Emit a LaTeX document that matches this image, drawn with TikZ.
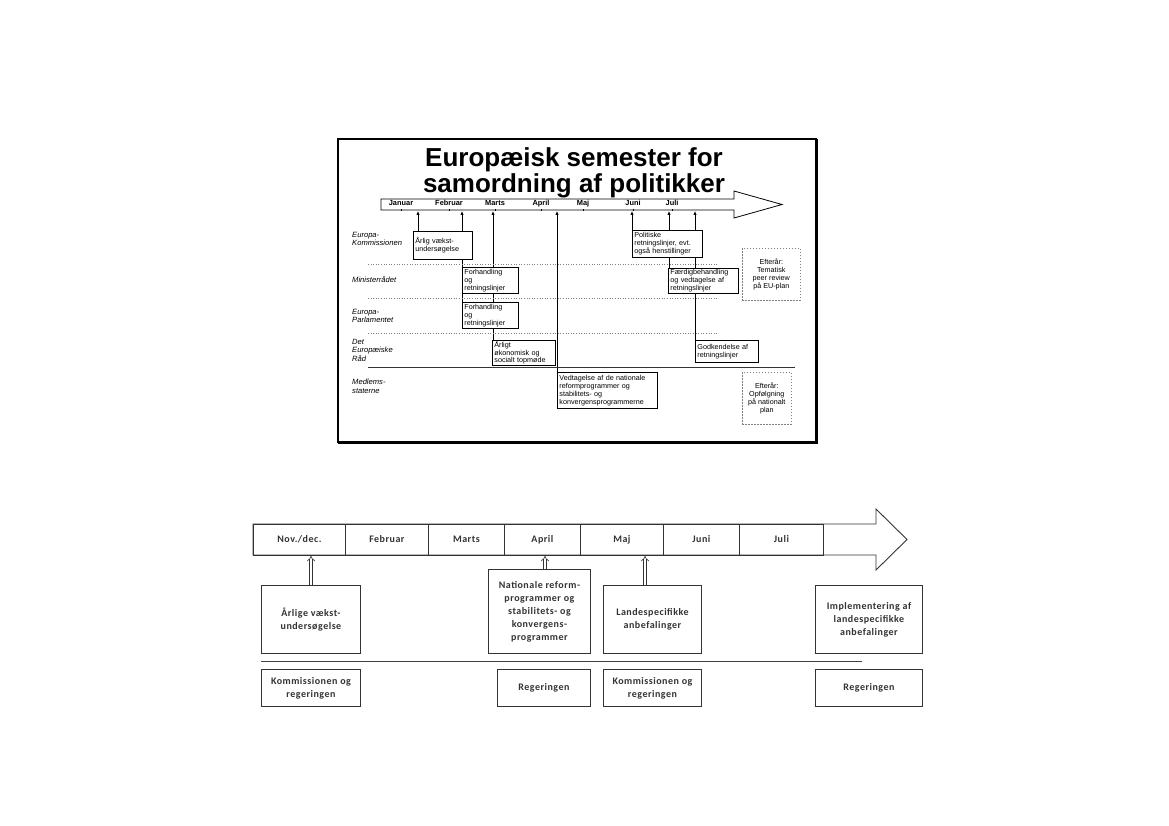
\documentclass[tikz,border=0pt]{standalone}
\usepackage{fontspec}
\setmainfont{Liberation Sans}
\newfontfamily\arialf{Liberation Sans}
\newfontfamily\calib[LetterSpace=5]{Carlito}
\usetikzlibrary{arrows.meta}
\pgfdeclarelayer{bg}
\pgfsetlayers{bg,main}
\newcommand\tightlines{\lineskiplimit=-4pt\relax}
\tikzset{
  tbox/.style={draw, fill=white, line width=0.8pt, inner xsep=2pt, inner ysep=0.5pt, align=left,
    font={\arialf\fontsize{7.2}{7.9}\selectfont\tightlines}, anchor=north west},
  dbox/.style={draw=gray, dashed, dash pattern=on 1.5pt off 1.5pt, fill=white, line width=0.6pt, align=center,
    font={\arialf\fontsize{7.2}{8}\selectfont\tightlines}, anchor=north west, inner sep=0pt},
  rowlab/.style={anchor=north west, align=left, inner sep=0pt, font={\arialf\itshape\fontsize{7.6}{8.3}\selectfont\tightlines}},
  mon/.style={font=\arialf\bfseries\fontsize{7.4}{8}\selectfont, inner sep=0pt, text height=5.5pt, text depth=1.5pt},
  conn/.style={line width=0.7pt},
  up/.style={line width=0.7pt, -{Latex[length=4pt,width=3.4pt]}},
  sep/.style={line width=0.6pt, dotted, gray},
  cell/.style={draw=black!80, line width=0.8pt, inner sep=0pt, text height=7pt, text depth=2pt,
    font=\calib\bfseries\fontsize{10}{12}\selectfont, text=black!80},
  bbox/.style={draw=black!80, line width=0.9pt, fill=white, align=center, inner sep=0pt,
    font={\calib\bfseries\fontsize{10}{13}\selectfont\tightlines}, text=black!80},
  dbl/.style={draw=black!80, double, double distance=2.2pt, line width=0.6pt, -{Implies}},
}
\begin{document}
\begin{tikzpicture}[x=1pt,y=-1pt]
\useasboundingbox (0,0) rectangle (1169,826);

% ===== top figure =====
\draw[line width=1.6pt] (338,139) rectangle (816,442);
\draw[line width=2.6pt] (816.5,139) -- (816.5,443) -- (338,443);

\node[anchor=base, font=\arialf\bfseries\fontsize{26}{28}\selectfont, inner sep=0pt] (t1) at (574,167) {Europæisk semester for};
\node[anchor=base, font=\arialf\bfseries\fontsize{26}{28}\selectfont, inner sep=0pt] (t2) at (574,193) {samordning af politikker};

\draw[line width=0.8pt, fill=white] (381,199) -- (734,199) -- (734,191) -- (782,204.5) -- (734,218) -- (734,210) -- (381,210) -- cycle;
\foreach \x/\m in {401/Januar,449/Februar,495/Marts,541/April,583/Maj,633/Juni,672/Juli}{
  \node[mon] at (\x,203.5) {\m};
  \draw[line width=0.4pt] (\x,209) -- (\x,211.5);
}
\coordinate (b1) at (418,211);
\coordinate (b2) at (462,211);
\coordinate (b3) at (493,211);
\coordinate (b4) at (557,211);
\coordinate (b5) at (632,211);
\coordinate (b6) at (669,211);
\coordinate (b7) at (695,211);

\node[rowlab] (r1) at (352,232) {Europa-\\Kommissionen};
\node[rowlab] (r2) at (352,276) {Ministerrådet};
\node[rowlab] (r3) at (352,309) {Europa-\\Parlamentet};
\node[rowlab] (r4) at (352,339) {Det\\Europæiske\\Råd};
\node[rowlab] (r5) at (352,379) {Medlems-\\staterne};

\coordinate (s1a) at (368,264); \coordinate (s1b) at (718,264);
\coordinate (s2a) at (368,298); \coordinate (s2b) at (718,298);
\coordinate (s3a) at (368,333); \coordinate (s3b) at (718,333);
\coordinate (s4a) at (368,367); \coordinate (s4b) at (795,367);
\draw[sep] (s1a) -- (s1b);
\draw[sep] (s2a) -- (s2b);
\draw[sep] (s3a) -- (s3b);
\draw[line width=0.7pt, black!80] (s4a) -- (s4b);

\node[tbox, text width=55pt, minimum height=28pt] (aarlig) at (413,231) {Årlig vækst-\\undersøgelse};
\node[tbox, text width=52pt, minimum height=26pt] (forh1) at (462,267) {Forhandling\\og\\retningslinjer};
\node[tbox, text width=52pt, minimum height=26pt] (forh2) at (462,302) {Forhandling\\og\\retningslinjer};
\node[tbox, text width=59pt, minimum height=23pt] (topm) at (492,340) {Årligt\\økonomisk og\\socialt topmøde};
\node[tbox, text width=96pt, minimum height=36pt] (vedt) at (557,372) {Vedtagelse af de nationale\\reformprogrammer og\\stabilitets- og\\konvergensprogrammerne};
\node[tbox, text width=66pt, minimum height=27pt] (polit) at (632,230) {Politiske\\retningslinjer, evt.\\også henstillinger};
\node[tbox, text width=66pt, minimum height=25pt] (faerd) at (668,268) {Færdigbehandling\\og vedtagelse af\\retningslinjer};
\node[tbox, text width=59pt, minimum height=22pt] (godk) at (695,340) {Godkendelse af\\retningslinjer};
\node[dbox, minimum width=58pt, minimum height=52pt] (eft1) at (742,248) {Efterår:\\Tematisk\\peer review\\på EU-plan};
\node[dbox, minimum width=49pt, minimum height=52pt] (eft2) at (742,372) {Efterår:\\Opfølgning\\på nationalt\\plan};

\begin{pgfonlayer}{bg}
\draw[up] (aarlig.north -| b1) -- (b1);
\draw[up] (aarlig.north -| b2) -- (b2);
\draw[conn] (aarlig.south -| b2) -- (forh1.north -| b2);
\draw[conn] (forh1.south -| b2) -- (forh2.north -| b2);
\draw[up] (topm.north -| b3) -- (b3);
\draw[up] (vedt.north -| b4) -- (b4);
\draw[up] (polit.north -| b5) -- (b5);
\draw[up] (polit.north -| b6) -- (b6);
\draw[conn] (polit.south -| b6) -- (faerd.north -| b6);
\draw[up] (godk.north -| b7) -- (b7);
\end{pgfonlayer}

% ===== bottom figure =====
\draw[draw=black!80, line width=0.9pt] (253,524) -- (876,524) -- (876,509) -- (907,539.5) -- (876,570) -- (876,555) -- (253,555) -- cycle;
\node[cell, minimum width=92pt, minimum height=31pt, anchor=north west] (c1) at (253,524) {Nov./dec.};
\node[cell, minimum width=83pt, minimum height=31pt, anchor=north west] (c2) at (345,524) {Februar};
\node[cell, minimum width=76pt, minimum height=31pt, anchor=north west] (c3) at (428,524) {Marts};
\node[cell, minimum width=76pt, minimum height=31pt, anchor=north west] (c4) at (504,524) {April};
\node[cell, minimum width=83pt, minimum height=31pt, anchor=north west] (c5) at (580,524) {Maj};
\node[cell, minimum width=76pt, minimum height=31pt, anchor=north west] (c6) at (663,524) {Juni};
\node[cell, minimum width=84pt, minimum height=31pt, anchor=north west] (c7) at (739,524) {Juli};

\node[bbox, minimum width=99pt, minimum height=68pt, anchor=north west] (x1) at (261,585) {Årlige vækst-\\undersøgelse};
\node[bbox, minimum width=102pt, minimum height=84pt, anchor=north west] (x2) at (488,569) {Nationale reform-\\programmer og\\stabilitets- og\\konvergens-\\programmer};
\node[bbox, minimum width=98pt, minimum height=68pt, anchor=north west] (x3) at (603,585) {Landespecifikke\\anbefalinger};
\node[bbox, minimum width=107pt, minimum height=68pt, anchor=north west] (x4) at (815,585) {Implementering af\\landespecifikke\\anbefalinger};

\coordinate (la) at (261,661);
\coordinate (lb) at (862,661);
\draw[draw=black!75, line width=0.9pt] (la) -- (lb);

\node[bbox, minimum width=99pt, minimum height=37pt, anchor=north west] (y1) at (261,669) {Kommissionen og\\regeringen};
\node[bbox, minimum width=93pt, minimum height=37pt, anchor=north west] (y2) at (497,669) {Regeringen};
\node[bbox, minimum width=98pt, minimum height=37pt, anchor=north west] (y3) at (603,669) {Kommissionen og\\regeringen};
\node[bbox, minimum width=107pt, minimum height=37pt, anchor=north west] (y4) at (815,669) {Regeringen};

\draw[dbl] (x1.north -| 311,0) -- (c1.south -| 311,0);
\draw[dbl] (x2.north -| 545,0) -- (c4.south -| 545,0);
\draw[dbl] (x3.north -| 645,0) -- (c6.south -| 645,0);
\end{tikzpicture}
\end{document}
